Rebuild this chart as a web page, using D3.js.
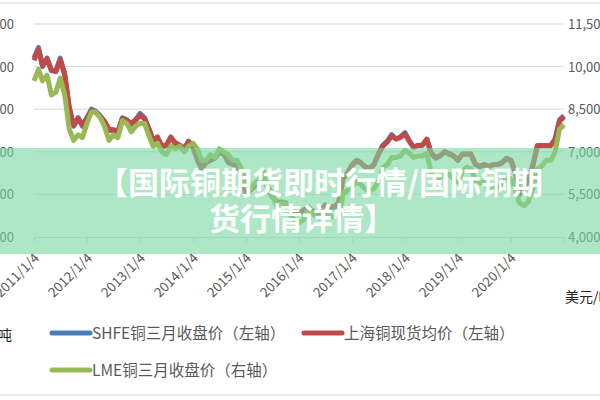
<!DOCTYPE html>
<html><head><meta charset="utf-8">
<script src="https://cdn.jsdelivr.net/npm/d3@7"></script>
<style>body{margin:0;background:#fff}svg{display:block;font-family:"Noto Sans CJK SC","Open Sans",sans-serif}</style>
</head><body><svg width="600" height="400"></svg>
<script>
const shfe = [72000,74500,70000,72000,69000,69000,72000,68000,60000,56000,58000,56000,
58000,60000,59500,58500,57000,55000,55000,54500,58000,57500,56500,57500,
59000,58000,55500,52500,53500,51000,51500,53500,52000,51500,50500,52500,
51000,48000,46000,47500,48000,48500,50000,49500,47500,47000,46500,45000,
40000,41000,42000,43000,44000,41500,39500,38000,38000,38000,35500,36000,
35500,36000,37000,36000,35500,36000,37500,37000,37000,38000,44000,45000,
47000,48000,47500,46500,46000,47000,49500,51500,52500,54000,53000,53500,
54500,52500,51000,51500,51500,53000,49500,48500,49000,50000,49500,49000,
48000,49500,49500,49500,47000,46500,47000,46500,47000,47000,47500,48500,
48000,45000,40000,41500,43500,47000,51500,51500,51500,51500,53000,57500,58500];
const spot = [71500,74000,70200,71800,69200,68800,71600,68200,60500,56200,57800,56300,
57800,59600,59300,58300,57200,55300,55200,54800,57800,57400,56700,57400,
58600,57700,55600,52800,53400,51300,51600,53300,52100,51600,50800,52400,
51200,48200,46300,47500,48100,48600,49800,49500,47700,47200,46700,45200,
40300,41100,42000,42900,43800,41600,39700,38300,38200,38100,35800,36200,
35800,36200,37100,36200,35700,36100,37500,37100,37100,38100,43700,44800,
46800,47800,47400,46500,46100,47000,49300,51300,52300,53700,53000,53400,
54200,52400,51100,51500,51600,52900,49700,48700,49100,50000,49600,49100,
48100,49400,49400,49400,47100,46600,47000,46600,47000,47000,47400,48400,
48000,45200,40300,41600,43500,46800,51300,51400,51400,51400,52800,57200,58200];
const lme = [9500,9900,9500,9700,9000,9100,9600,9000,7800,7400,7600,7500,
8000,8400,8400,8200,7900,7400,7600,7500,8100,8000,7700,7900,
8000,8000,7600,7200,7300,7000,6900,7200,7100,7200,7000,7200,
7300,7100,6700,6700,6900,6800,7100,7000,6900,6700,6700,6400,
5800,5700,5900,6000,6300,5800,5500,5100,5200,5200,4800,4600,
4500,4600,4950,4850,4700,4650,4850,4750,4700,4750,5500,5650,
5750,5950,5850,5700,5600,5700,5950,6450,6550,6800,6800,6850,
7050,6950,6800,6850,6850,6950,6250,6050,6100,6200,6200,6050,
5950,6300,6450,6400,6000,5900,5950,5700,5750,5750,5850,6100,
6050,5650,5200,5100,5250,5750,6400,6500,6700,6700,7000,7800,7950];
const leftTicks = [30000,40000,50000,60000,70000,80000];
const rightTicks = [4000,5500,7000,8500,10000,11500];
const xTickLabels = ["2011/1/4","2012/1/4","2013/1/4","2014/1/4","2015/1/4","2016/1/4","2017/1/4","2018/1/4","2019/1/4","2020/1/4"];
const seriesNames = ["SHFE铜三月收盘价（左轴）","上海铜现货均价（左轴）","LME铜三月收盘价（右轴）"];
const colors = ["#4a7ebb","#be4b48","#98b954"];

const svg = d3.select("svg");
const parse = d3.timeParse("%Y/%m/%d");
const dates = shfe.map((_,i)=>new Date(2011, i, 4));
const x = d3.scaleTime().domain([new Date(2011,0,4), new Date(2021,0,4)]).range([34,564]);
const yL = d3.scaleLinear().domain([30000,80000]).range([237,24]);
const yR = d3.scaleLinear().domain([4000,11500]).range([237,24]);

svg.append("line").attr("x1",0).attr("x2",600).attr("y1",3).attr("y2",3).attr("stroke","#d9d9d9");
svg.append("line").attr("x1",0).attr("x2",600).attr("y1",395).attr("y2",395).attr("stroke","#d9d9d9");

svg.append("g").selectAll("line").data(leftTicks.slice(1)).join("line")
  .attr("x1",34).attr("x2",564).attr("y1",d=>yL(d)).attr("y2",d=>yL(d)).attr("stroke","#d9d9d9");
const xa = svg.append("g").attr("transform","translate(0,237)")
  .call(d3.axisBottom(x).tickValues(d3.range(11).map(i=>new Date(2011+i,0,4))).tickSize(5).tickFormat(""));
xa.selectAll("line,path").attr("stroke","#d9d9d9");
svg.append("g").selectAll("text").data(xTickLabels).join("text")
  .attr("transform",d=>`translate(${x(parse(d))+6},259) rotate(-45)`)
  .attr("text-anchor","end").attr("font-size",13.5).attr("fill","#595959").text(d=>d);

svg.append("g").selectAll("text").data(leftTicks).join("text")
  .attr("x",14).attr("y",d=>yL(d)+5).attr("text-anchor","end").attr("font-size",13).attr("fill","#595959")
  .text(d=>d3.format(",")(d));
svg.append("g").selectAll("text").data(rightTicks).join("text")
  .attr("x",568).attr("y",d=>yR(d)+5).attr("font-size",13).attr("fill","#595959")
  .text(d=>d3.format(",")(d));

const line = (data, y) => d3.line().x((d,i)=>x(dates[i])).y(d=>y(d))(data);
[[shfe,yL],[spot,yL],[lme,yR]].forEach(([d,y],k)=>{
  svg.append("path").attr("d",line(d,y)).attr("fill","none").attr("stroke",colors[k])
    .attr("stroke-width",5).attr("stroke-linejoin","round");
});

svg.append("text").attr("x",565).attr("y",302).attr("font-size",14).attr("fill","#222").text("美元/吨");
svg.append("text").attr("x",12).attr("y",340).attr("text-anchor","end").attr("font-size",14).attr("fill","#222").text("元/吨");

const leg = [[52,333,0],[304,333,1],[52,370,2]];
leg.forEach(([lx,ly,k])=>{
  svg.append("line").attr("x1",lx).attr("x2",lx+38).attr("y1",ly).attr("y2",ly).attr("stroke",colors[k]).attr("stroke-width",5).attr("stroke-linecap","round");
  svg.append("text").attr("x",lx+40).attr("y",ly+6).attr("font-size",15.5).attr("fill","#595959").text(seriesNames[k]);
});

svg.append("rect").attr("x",0).attr("y",148).attr("width",600).attr("height",106).attr("fill","rgba(120,215,160,0.6)");
svg.append("text").attr("x",320).attr("y",194).attr("text-anchor","middle").attr("font-size",31).attr("font-weight","bold").attr("fill","#fff").text("【国际铜期货即时行情/国际铜期");
svg.append("text").attr("x",302).attr("y",230).attr("text-anchor","middle").attr("font-size",31).attr("font-weight","bold").attr("fill","#fff").text("货行情详情】");
</script></body></html>
